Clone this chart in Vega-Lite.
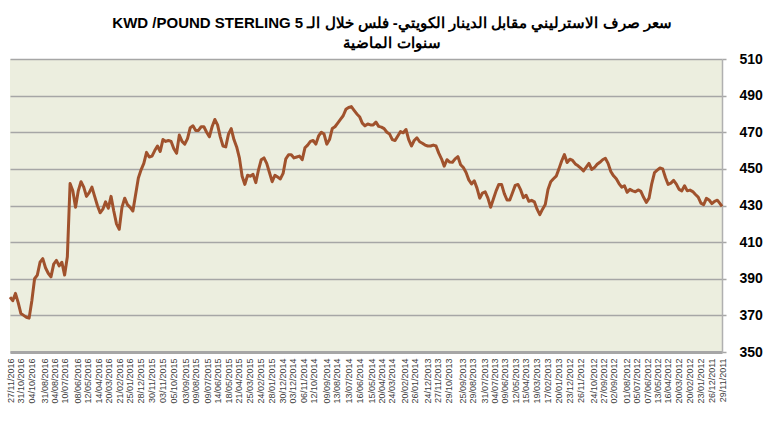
{
  "$schema": "https://vega.github.io/schema/vega-lite/v6.json",
  "width": 712,
  "height": 293,
  "autosize": {"type": "none"},
  "padding": {"left": 10, "top": 59, "right": 48, "bottom": 69},
  "background": "white",
  "config": {"view": {"fill": "#ECEEDF", "stroke": null}, "font": "Liberation Sans"},
  "title": {
    "text": ["KWD /POUND STERLING  5 سعر صرف الاسترليني مقابل الدينار الكويتي- فلس خلال الـ", "سنوات الماضية"],
    "fontSize": 15,
    "fontWeight": "bold",
    "font": "Liberation Sans",
    "color": "black",
    "lineHeight": 20,
    "anchor": "middle",
    "offset": 1,
    "dx": 26
  },
  "data": {"values": [
    {"date": "2016-11-27", "rate": 380}, {"date": "2016-11-20", "rate": 378}, {"date": "2016-11-13", "rate": 382}, {"date": "2016-11-06", "rate": 377},
    {"date": "2016-10-30", "rate": 371}, {"date": "2016-10-23", "rate": 370}, {"date": "2016-10-16", "rate": 369}, {"date": "2016-10-09", "rate": 368.5},
    {"date": "2016-10-02", "rate": 378}, {"date": "2016-09-25", "rate": 390}, {"date": "2016-09-18", "rate": 392}, {"date": "2016-09-11", "rate": 399},
    {"date": "2016-09-04", "rate": 401}, {"date": "2016-08-28", "rate": 396}, {"date": "2016-08-21", "rate": 393}, {"date": "2016-08-14", "rate": 391},
    {"date": "2016-08-07", "rate": 398}, {"date": "2016-07-31", "rate": 400}, {"date": "2016-07-24", "rate": 397}, {"date": "2016-07-17", "rate": 399},
    {"date": "2016-07-10", "rate": 392}, {"date": "2016-07-03", "rate": 402}, {"date": "2016-06-26", "rate": 442}, {"date": "2016-06-19", "rate": 438},
    {"date": "2016-06-12", "rate": 429}, {"date": "2016-06-05", "rate": 438}, {"date": "2016-05-29", "rate": 443}, {"date": "2016-05-22", "rate": 440},
    {"date": "2016-05-15", "rate": 435}, {"date": "2016-05-08", "rate": 437}, {"date": "2016-05-01", "rate": 440}, {"date": "2016-04-24", "rate": 435},
    {"date": "2016-04-17", "rate": 430}, {"date": "2016-04-10", "rate": 426}, {"date": "2016-04-03", "rate": 428}, {"date": "2016-03-27", "rate": 432},
    {"date": "2016-03-20", "rate": 428.5}, {"date": "2016-03-13", "rate": 435}, {"date": "2016-03-06", "rate": 427}, {"date": "2016-02-28", "rate": 420},
    {"date": "2016-02-21", "rate": 417}, {"date": "2016-02-14", "rate": 429}, {"date": "2016-02-07", "rate": 434}, {"date": "2016-01-31", "rate": 430.5},
    {"date": "2016-01-24", "rate": 429}, {"date": "2016-01-17", "rate": 427}, {"date": "2016-01-10", "rate": 436}, {"date": "2016-01-03", "rate": 445},
    {"date": "2015-12-27", "rate": 449.5}, {"date": "2015-12-20", "rate": 453}, {"date": "2015-12-13", "rate": 459}, {"date": "2015-12-06", "rate": 456.5},
    {"date": "2015-11-29", "rate": 457}, {"date": "2015-11-22", "rate": 460}, {"date": "2015-11-15", "rate": 462.5}, {"date": "2015-11-08", "rate": 459.5},
    {"date": "2015-11-01", "rate": 466}, {"date": "2015-10-25", "rate": 465}, {"date": "2015-10-18", "rate": 465.5}, {"date": "2015-10-11", "rate": 465},
    {"date": "2015-10-04", "rate": 461}, {"date": "2015-09-27", "rate": 458.5}, {"date": "2015-09-20", "rate": 468.5}, {"date": "2015-09-13", "rate": 465},
    {"date": "2015-09-06", "rate": 463.5}, {"date": "2015-08-30", "rate": 466.5}, {"date": "2015-08-23", "rate": 472.5}, {"date": "2015-08-16", "rate": 473.5},
    {"date": "2015-08-09", "rate": 471}, {"date": "2015-08-02", "rate": 471}, {"date": "2015-07-26", "rate": 473}, {"date": "2015-07-19", "rate": 473},
    {"date": "2015-07-12", "rate": 470}, {"date": "2015-07-05", "rate": 467.5}, {"date": "2015-06-28", "rate": 473}, {"date": "2015-06-21", "rate": 477},
    {"date": "2015-06-14", "rate": 474}, {"date": "2015-06-07", "rate": 467.5}, {"date": "2015-05-31", "rate": 462.5}, {"date": "2015-05-24", "rate": 462},
    {"date": "2015-05-17", "rate": 469}, {"date": "2015-05-10", "rate": 472}, {"date": "2015-05-03", "rate": 466}, {"date": "2015-04-26", "rate": 462},
    {"date": "2015-04-19", "rate": 456}, {"date": "2015-04-12", "rate": 446}, {"date": "2015-04-05", "rate": 441.5}, {"date": "2015-03-29", "rate": 446.5},
    {"date": "2015-03-22", "rate": 446}, {"date": "2015-03-15", "rate": 447}, {"date": "2015-03-08", "rate": 442.5}, {"date": "2015-03-01", "rate": 449.5},
    {"date": "2015-02-22", "rate": 455}, {"date": "2015-02-15", "rate": 456}, {"date": "2015-02-08", "rate": 453}, {"date": "2015-02-01", "rate": 448},
    {"date": "2015-01-25", "rate": 443}, {"date": "2015-01-18", "rate": 446.5}, {"date": "2015-01-11", "rate": 445.5}, {"date": "2015-01-04", "rate": 444.5},
    {"date": "2014-12-28", "rate": 447.5}, {"date": "2014-12-21", "rate": 455.5}, {"date": "2014-12-14", "rate": 457.7}, {"date": "2014-12-07", "rate": 457.7},
    {"date": "2014-11-30", "rate": 456}, {"date": "2014-11-23", "rate": 456.5}, {"date": "2014-11-16", "rate": 457}, {"date": "2014-11-09", "rate": 455},
    {"date": "2014-11-02", "rate": 461.5}, {"date": "2014-10-26", "rate": 463}, {"date": "2014-10-19", "rate": 465}, {"date": "2014-10-12", "rate": 465.5},
    {"date": "2014-10-05", "rate": 463.5}, {"date": "2014-09-28", "rate": 468}, {"date": "2014-09-21", "rate": 470}, {"date": "2014-09-14", "rate": 469},
    {"date": "2014-09-07", "rate": 463.5}, {"date": "2014-08-31", "rate": 466}, {"date": "2014-08-24", "rate": 472}, {"date": "2014-08-17", "rate": 473},
    {"date": "2014-08-10", "rate": 475}, {"date": "2014-08-03", "rate": 477}, {"date": "2014-07-27", "rate": 479}, {"date": "2014-07-20", "rate": 482.5},
    {"date": "2014-07-13", "rate": 483.5}, {"date": "2014-07-06", "rate": 484}, {"date": "2014-06-29", "rate": 482}, {"date": "2014-06-22", "rate": 480},
    {"date": "2014-06-15", "rate": 478.5}, {"date": "2014-06-08", "rate": 475}, {"date": "2014-06-01", "rate": 473.5}, {"date": "2014-05-25", "rate": 474.5},
    {"date": "2014-05-18", "rate": 474}, {"date": "2014-05-11", "rate": 474}, {"date": "2014-05-04", "rate": 475.5}, {"date": "2014-04-27", "rate": 473.2},
    {"date": "2014-04-20", "rate": 472.8}, {"date": "2014-04-13", "rate": 472}, {"date": "2014-04-06", "rate": 470}, {"date": "2014-03-30", "rate": 469},
    {"date": "2014-03-23", "rate": 466}, {"date": "2014-03-16", "rate": 465.5}, {"date": "2014-03-09", "rate": 468}, {"date": "2014-03-02", "rate": 470.4},
    {"date": "2014-02-23", "rate": 469.7}, {"date": "2014-02-16", "rate": 471.5}, {"date": "2014-02-09", "rate": 466}, {"date": "2014-02-02", "rate": 462.5},
    {"date": "2014-01-26", "rate": 465.5}, {"date": "2014-01-19", "rate": 467}, {"date": "2014-01-12", "rate": 464.8}, {"date": "2014-01-05", "rate": 464},
    {"date": "2013-12-29", "rate": 463}, {"date": "2013-12-22", "rate": 462.5}, {"date": "2013-12-15", "rate": 462.5}, {"date": "2013-12-08", "rate": 463},
    {"date": "2013-12-01", "rate": 462.5}, {"date": "2013-11-24", "rate": 458.6}, {"date": "2013-11-17", "rate": 455.5}, {"date": "2013-11-10", "rate": 451.5},
    {"date": "2013-11-03", "rate": 455}, {"date": "2013-10-27", "rate": 453.7}, {"date": "2013-10-20", "rate": 453.6}, {"date": "2013-10-13", "rate": 455.5},
    {"date": "2013-10-06", "rate": 456.7}, {"date": "2013-09-29", "rate": 452.3}, {"date": "2013-09-22", "rate": 450.7}, {"date": "2013-09-15", "rate": 448},
    {"date": "2013-09-08", "rate": 444}, {"date": "2013-09-01", "rate": 441.8}, {"date": "2013-08-25", "rate": 443.5}, {"date": "2013-08-18", "rate": 439.5},
    {"date": "2013-08-11", "rate": 434}, {"date": "2013-08-04", "rate": 436.8}, {"date": "2013-07-28", "rate": 437.5}, {"date": "2013-07-21", "rate": 434},
    {"date": "2013-07-14", "rate": 429}, {"date": "2013-07-07", "rate": 433.5}, {"date": "2013-06-30", "rate": 438}, {"date": "2013-06-23", "rate": 441.5},
    {"date": "2013-06-16", "rate": 441.5}, {"date": "2013-06-09", "rate": 436.5}, {"date": "2013-06-02", "rate": 433}, {"date": "2013-05-26", "rate": 433},
    {"date": "2013-05-19", "rate": 437}, {"date": "2013-05-12", "rate": 441}, {"date": "2013-05-05", "rate": 441.5}, {"date": "2013-04-28", "rate": 438.5},
    {"date": "2013-04-21", "rate": 434.3}, {"date": "2013-04-14", "rate": 435.6}, {"date": "2013-04-07", "rate": 432.3}, {"date": "2013-03-31", "rate": 432.8},
    {"date": "2013-03-24", "rate": 432}, {"date": "2013-03-17", "rate": 428}, {"date": "2013-03-10", "rate": 425}, {"date": "2013-03-03", "rate": 428},
    {"date": "2013-02-24", "rate": 430.5}, {"date": "2013-02-17", "rate": 438.7}, {"date": "2013-02-10", "rate": 443}, {"date": "2013-02-03", "rate": 444.6},
    {"date": "2013-01-27", "rate": 446}, {"date": "2013-01-20", "rate": 450}, {"date": "2013-01-13", "rate": 454.3}, {"date": "2013-01-06", "rate": 457.8},
    {"date": "2012-12-30", "rate": 453.5}, {"date": "2012-12-23", "rate": 455.3}, {"date": "2012-12-16", "rate": 454.6}, {"date": "2012-12-09", "rate": 452.7},
    {"date": "2012-12-02", "rate": 451.7}, {"date": "2012-11-25", "rate": 450.4}, {"date": "2012-11-18", "rate": 448.9}, {"date": "2012-11-11", "rate": 450.9},
    {"date": "2012-11-04", "rate": 453}, {"date": "2012-10-28", "rate": 449.7}, {"date": "2012-10-21", "rate": 450.7}, {"date": "2012-10-14", "rate": 452.5},
    {"date": "2012-10-07", "rate": 453.6}, {"date": "2012-09-30", "rate": 455}, {"date": "2012-09-23", "rate": 455.8}, {"date": "2012-09-16", "rate": 453},
    {"date": "2012-09-09", "rate": 448.6}, {"date": "2012-09-02", "rate": 446.2}, {"date": "2012-08-26", "rate": 444.6}, {"date": "2012-08-19", "rate": 442},
    {"date": "2012-08-12", "rate": 440}, {"date": "2012-08-05", "rate": 440.8}, {"date": "2012-07-29", "rate": 437.2}, {"date": "2012-07-22", "rate": 438.8},
    {"date": "2012-07-15", "rate": 438}, {"date": "2012-07-08", "rate": 437.5}, {"date": "2012-07-01", "rate": 438.5}, {"date": "2012-06-24", "rate": 437.7},
    {"date": "2012-06-17", "rate": 434.5}, {"date": "2012-06-10", "rate": 431.7}, {"date": "2012-06-03", "rate": 434}, {"date": "2012-05-27", "rate": 442},
    {"date": "2012-05-20", "rate": 448}, {"date": "2012-05-13", "rate": 449.3}, {"date": "2012-05-06", "rate": 450.5}, {"date": "2012-04-29", "rate": 450},
    {"date": "2012-04-22", "rate": 445.3}, {"date": "2012-04-15", "rate": 441.5}, {"date": "2012-04-08", "rate": 442.2}, {"date": "2012-04-01", "rate": 443.7},
    {"date": "2012-03-25", "rate": 441.7}, {"date": "2012-03-18", "rate": 438.8}, {"date": "2012-03-11", "rate": 438}, {"date": "2012-03-04", "rate": 440.8},
    {"date": "2012-02-26", "rate": 438}, {"date": "2012-02-19", "rate": 438.4}, {"date": "2012-02-12", "rate": 437.6}, {"date": "2012-02-05", "rate": 436},
    {"date": "2012-01-29", "rate": 434.6}, {"date": "2012-01-22", "rate": 431.3}, {"date": "2012-01-15", "rate": 430.4}, {"date": "2012-01-08", "rate": 433.9},
    {"date": "2012-01-01", "rate": 433}, {"date": "2011-12-25", "rate": 431}, {"date": "2011-12-18", "rate": 432.3}, {"date": "2011-12-11", "rate": 432.9},
    {"date": "2011-12-04", "rate": 431}, {"date": "2011-11-29", "rate": 429.5}
  ]},
  "mark": {"type": "line", "color": "#A0522D", "strokeWidth": 3, "strokeJoin": "round"},
  "encoding": {
    "x": {
      "field": "date",
      "type": "temporal",
      "scale": {
        "type": "utc",
        "reverse": true,
        "domain": [{"year": 2011, "month": 11, "date": 29, "utc": true}, {"year": 2016, "month": 11, "date": 27, "utc": true}]
      },
      "axis": {
        "title": null,
        "values": [
          {"year": 2016, "month": 11, "date": 27, "utc": true}, {"year": 2016, "month": 10, "date": 31, "utc": true}, {"year": 2016, "month": 10, "date": 4, "utc": true},
          {"year": 2016, "month": 8, "date": 31, "utc": true}, {"year": 2016, "month": 8, "date": 4, "utc": true}, {"year": 2016, "month": 7, "date": 10, "utc": true},
          {"year": 2016, "month": 6, "date": 8, "utc": true}, {"year": 2016, "month": 5, "date": 12, "utc": true}, {"year": 2016, "month": 4, "date": 14, "utc": true},
          {"year": 2016, "month": 3, "date": 20, "utc": true}, {"year": 2016, "month": 2, "date": 21, "utc": true}, {"year": 2016, "month": 1, "date": 25, "utc": true},
          {"year": 2015, "month": 12, "date": 28, "utc": true}, {"year": 2015, "month": 11, "date": 30, "utc": true}, {"year": 2015, "month": 11, "date": 3, "utc": true},
          {"year": 2015, "month": 10, "date": 5, "utc": true}, {"year": 2015, "month": 9, "date": 3, "utc": true}, {"year": 2015, "month": 8, "date": 9, "utc": true},
          {"year": 2015, "month": 7, "date": 9, "utc": true}, {"year": 2015, "month": 6, "date": 14, "utc": true}, {"year": 2015, "month": 5, "date": 18, "utc": true},
          {"year": 2015, "month": 4, "date": 21, "utc": true}, {"year": 2015, "month": 3, "date": 25, "utc": true}, {"year": 2015, "month": 2, "date": 24, "utc": true},
          {"year": 2015, "month": 1, "date": 28, "utc": true}, {"year": 2014, "month": 12, "date": 30, "utc": true}, {"year": 2014, "month": 12, "date": 3, "utc": true},
          {"year": 2014, "month": 11, "date": 6, "utc": true}, {"year": 2014, "month": 10, "date": 12, "utc": true}, {"year": 2014, "month": 9, "date": 9, "utc": true},
          {"year": 2014, "month": 8, "date": 13, "utc": true}, {"year": 2014, "month": 7, "date": 13, "utc": true}, {"year": 2014, "month": 6, "date": 16, "utc": true},
          {"year": 2014, "month": 5, "date": 15, "utc": true}, {"year": 2014, "month": 4, "date": 20, "utc": true}, {"year": 2014, "month": 3, "date": 24, "utc": true},
          {"year": 2014, "month": 2, "date": 20, "utc": true}, {"year": 2014, "month": 1, "date": 26, "utc": true}, {"year": 2013, "month": 12, "date": 24, "utc": true},
          {"year": 2013, "month": 11, "date": 27, "utc": true}, {"year": 2013, "month": 10, "date": 29, "utc": true}, {"year": 2013, "month": 9, "date": 25, "utc": true},
          {"year": 2013, "month": 8, "date": 29, "utc": true}, {"year": 2013, "month": 7, "date": 31, "utc": true}, {"year": 2013, "month": 7, "date": 4, "utc": true},
          {"year": 2013, "month": 6, "date": 9, "utc": true}, {"year": 2013, "month": 5, "date": 12, "utc": true}, {"year": 2013, "month": 4, "date": 15, "utc": true},
          {"year": 2013, "month": 3, "date": 19, "utc": true}, {"year": 2013, "month": 2, "date": 17, "utc": true}, {"year": 2013, "month": 1, "date": 20, "utc": true},
          {"year": 2012, "month": 12, "date": 23, "utc": true}, {"year": 2012, "month": 11, "date": 26, "utc": true}, {"year": 2012, "month": 10, "date": 24, "utc": true},
          {"year": 2012, "month": 9, "date": 27, "utc": true}, {"year": 2012, "month": 9, "date": 2, "utc": true}, {"year": 2012, "month": 8, "date": 1, "utc": true},
          {"year": 2012, "month": 7, "date": 5, "utc": true}, {"year": 2012, "month": 6, "date": 7, "utc": true}, {"year": 2012, "month": 5, "date": 13, "utc": true},
          {"year": 2012, "month": 4, "date": 16, "utc": true}, {"year": 2012, "month": 3, "date": 20, "utc": true}, {"year": 2012, "month": 2, "date": 20, "utc": true},
          {"year": 2012, "month": 1, "date": 23, "utc": true}, {"year": 2011, "month": 12, "date": 26, "utc": true}, {"year": 2011, "month": 11, "date": 29, "utc": true}
        ],
        "labelExpr": "utcFormat(datum.value, '%d/%m/%Y')",
        "labelAngle": -90,
        "labelFontSize": 9,
        "labelFont": "Liberation Sans",
        "labelColor": "#404040",
        "labelOverlap": false,
        "labelBound": false,
        "labelFlush": false,
        "labelPadding": 6,
        "ticks": false,
        "grid": false,
        "domain": true,
        "domainColor": "#A6A6A6",
        "domainWidth": 3
      }
    },
    "y": {
      "field": "rate",
      "type": "quantitative",
      "scale": {"domain": [350, 510], "nice": false, "zero": false},
      "axis": {
        "orient": "right",
        "title": null,
        "values": [350, 370, 390, 410, 430, 450, 470, 490, 510],
        "labelFontSize": 14,
        "labelFontWeight": "bold",
        "labelFont": "Liberation Sans",
        "labelColor": "black",
        "labelPadding": 13,
        "labelBound": false,
        "labelFlush": false,
        "ticks": true,
        "tickSize": 4,
        "tickColor": "#A6A6A6",
        "tickWidth": 1.5,
        "grid": true,
        "gridColor": "#A6A6A6",
        "gridWidth": 1.5,
        "domain": true,
        "domainColor": "#B0B0B0",
        "domainWidth": 1.5
      }
    }
  }
}
